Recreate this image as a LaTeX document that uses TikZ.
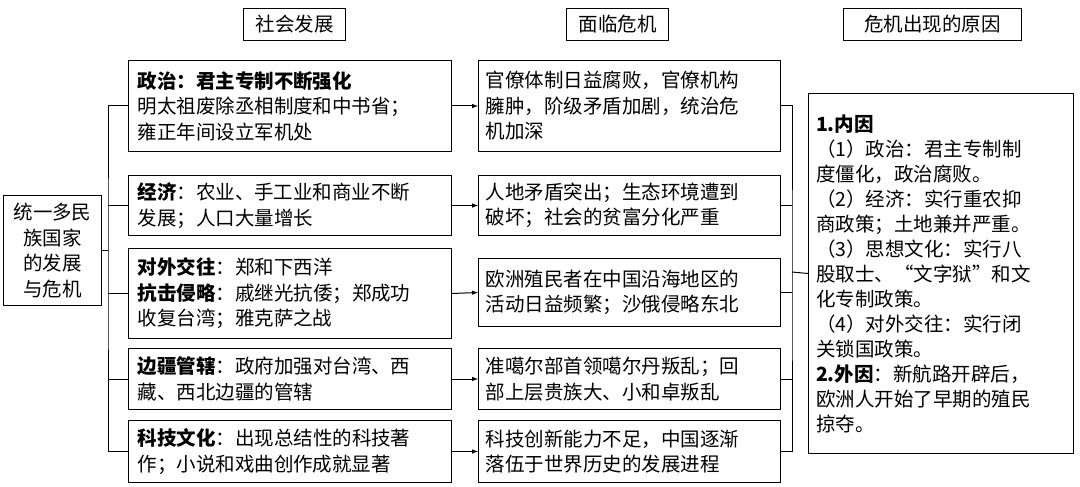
\documentclass[tikz,border=0pt]{standalone}
\usepackage{fontspec}
\setmainfont{Noto Sans CJK SC}
\usetikzlibrary{positioning}

\begin{document}
\begin{tikzpicture}[x=1pt,y=-1pt]
        \tikzset{box/.style={draw, line width=1pt, anchor=north west, inner sep=0pt, align=left, font=\fontsize{19.5}{25.5}\selectfont},
                 head/.style={box, align=center, minimum height=32pt},
                 link/.style={line width=1pt},
                 arr/.style={link, -latex}}
        \useasboundingbox (0,0) rectangle (1080,487);
        % column heads
        \node [head, minimum width=102pt] (hdev) at (243,8) {社会发展};
        \node [head, minimum width=102pt] (hcri) at (566,8) {面临危机};
        \node [head, minimum width=178pt] (hcau) at (843,8) {危机出现的原因};
        % root
        \node [box, minimum width=98pt, minimum height=110pt, align=center] (root) at (3,195) {统一多民\\族国家\\的发展\\与危机};
        % development
        \node [box, minimum width=323pt, minimum height=91pt, text width=305pt] (d1) at (128,60) {\textbf{政治：君主专制不断强化}\\明太祖废除丞相制度和中书省；\\雍正年间设立军机处};
        \node [box, minimum width=323pt, minimum height=60pt, text width=305pt] (d2) at (128,175) {\textbf{经济}：农业、手工业和商业不断\\发展；人口大量增长};
        \node [box, minimum width=323pt, minimum height=90pt, text width=305pt] (d3) at (128,248) {\textbf{对外交往}：郑和下西洋\\\textbf{抗击侵略}：戚继光抗倭；郑成功\\收复台湾；雅克萨之战};
        \node [box, minimum width=323pt, minimum height=61pt, text width=305pt] (d4) at (128,348) {\textbf{边疆管辖}：政府加强对台湾、西\\藏、西北边疆的管辖};
        \node [box, minimum width=323pt, minimum height=62pt, text width=305pt] (d5) at (128,420) {\textbf{科技文化}：出现总结性的科技著\\作；小说和戏曲创作成就显著};
        % crises
        \node [box, minimum width=302pt, minimum height=91pt, text width=288pt] (c1) at (478,60) {官僚体制日益腐败，官僚机构\\臃肿，阶级矛盾加剧，统治危\\机加深};
        \node [box, minimum width=302pt, minimum height=60pt, text width=288pt] (c2) at (478,175) {人地矛盾突出；生态环境遭到\\破坏；社会的贫富分化严重};
        \node [box, minimum width=302pt, minimum height=68pt, text width=288pt] (c3) at (478,258) {欧洲殖民者在中国沿海地区的\\活动日益频繁；沙俄侵略东北};
        \node [box, minimum width=302pt, minimum height=61pt, text width=288pt] (c4) at (478,348) {准噶尔部首领噶尔丹叛乱；回\\部上层贵族大、小和卓叛乱};
        \node [box, minimum width=302pt, minimum height=62pt, text width=288pt] (c5) at (478,420) {科技创新能力不足，中国逐渐\\落伍于世界历史的发展进程};
        % causes
        \node [box, minimum width=265pt, minimum height=360pt, text width=250pt, font=\fontsize{19.5}{25}\selectfont] (cause) at (808,93) {\textbf{1.内因}\\（1）政治：君主专制制\\度僵化，政治腐败。\\（2）经济：实行重农抑\\商政策；土地兼并严重。\\（3）思想文化：实行八\\股取士、“文字狱”和文\\化专制政策。\\（4）对外交往：实行闭\\关锁国政策。\\\textbf{2.外因}：新航路开辟后，\\欧洲人开始了早期的殖民\\掠夺。};
        % connectors
        \coordinate (lbus) at (108,250);
        \coordinate (rbus) at (792,272);
        \draw [link] (root.east |- lbus) -- (lbus);
        \draw [link] (d1.west) -| (lbus) |- (d5.west);
        \foreach \i in {2,3,4}
            \draw [link] (d\i.west) -- (d\i.west -| lbus);
        \foreach \i in {1,...,5}
            \draw [arr] (d\i.east) -- (c\i.west);
        \draw [link] (c1.east) -| (rbus) |- (c5.east);
        \foreach \i in {2,3,4}
            \draw [link] (c\i.east) -- (c\i.east -| rbus);
        \draw [link] (rbus) -- (cause.west);
\end{tikzpicture}
\end{document}
